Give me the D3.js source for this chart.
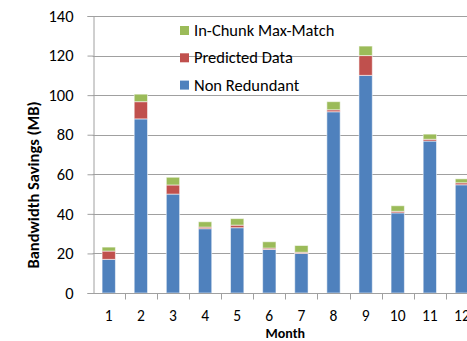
<!DOCTYPE html>
<html>
<head>
<meta charset="utf-8">
<script src="https://cdn.jsdelivr.net/npm/d3@7"></script>
<style>
  html, body { margin: 0; padding: 0; background: #fff; overflow: hidden; }
  svg { display: block; }
  text { font-family: Carlito, Lato, "Open Sans", sans-serif; fill: #000; }
</style>
</head>
<body>
<svg id="chart" width="467" height="341"></svg>
<script>
// Monthly bandwidth savings (MB), split by source
const months = ["1", "2", "3", "4", "5", "6", "7", "8", "9", "10", "11", "12"];
const nonRedundant = [17, 88, 50, 32.5, 33, 22, 20, 91.6, 110, 40.5, 76.8, 54.7];
const predictedData = [4.2, 8.7, 4.6, 0.8, 1.3, 0.7, 0.6, 1.0, 10, 0.8, 0.9, 1.0];
const inChunkMaxMatch = [2.0, 3.8, 3.9, 2.7, 3.3, 3.2, 3.4, 4.1, 4.8, 2.8, 2.6, 2.0];
const yTicks = [0, 20, 40, 60, 80, 100, 120, 140];

const seriesKeys = ["nonRedundant", "predicted", "inChunk"];
const seriesNames = { nonRedundant: "Non Redundant", predicted: "Predicted Data", inChunk: "In-Chunk Max-Match" };
const seriesColors = { nonRedundant: "#4F81BD", predicted: "#C0504D", inChunk: "#9BBB59" };

const rows = months.map((m, i) => ({
  month: m,
  nonRedundant: nonRedundant[i],
  predicted: predictedData[i],
  inChunk: inChunkMaxMatch[i]
}));

const svg = d3.select("#chart");
const plot = { left: 92.7, right: 478, top: 16, bottom: 293 };

const x = d3.scaleBand()
  .domain(months)
  .range([plot.left, plot.right])
  .paddingInner(0.585)
  .paddingOuter(0.2925);
const step = x.step();

const y = d3.scaleLinear().domain([0, 140]).range([plot.bottom, plot.top]);

// Horizontal gridlines
svg.append("g")
  .selectAll("line")
  .data(yTicks.filter(t => t > 0))
  .join("line")
  .attr("x1", plot.left).attr("x2", plot.right)
  .attr("y1", d => Math.round(y(d)) + 0.5).attr("y2", d => Math.round(y(d)) + 0.5)
  .attr("stroke", "#a0a0a0").attr("stroke-width", 1);

// Stacked bars
const stacked = d3.stack().keys(seriesKeys)(rows);
svg.append("g")
  .selectAll("g")
  .data(stacked)
  .join("g")
  .attr("fill", s => seriesColors[s.key])
  .selectAll("rect")
  .data(s => s)
  .join("rect")
  .attr("x", d => x(d.data.month))
  .attr("width", x.bandwidth())
  .attr("y", d => y(d[1]))
  .attr("height", d => y(d[0]) - y(d[1]))
  .attr("stroke", "rgba(255,255,255,0.55)")
  .attr("stroke-width", 1);

// Y axis
const yAxis = d3.axisLeft(y).tickValues(yTicks).tickSize(6).tickPadding(14);
const yg = svg.append("g")
  .attr("transform", `translate(${Math.round(plot.left) + 0.5},0)`)
  .call(yAxis);
yg.select(".domain").attr("stroke", "#a0a0a0");
yg.selectAll(".tick line").attr("stroke", "#a0a0a0");
yg.selectAll(".tick text").attr("font-size", 16.5).attr("font-family", null);

// X axis with ticks at category boundaries
const xg = svg.append("g")
  .attr("transform", `translate(0,${Math.round(plot.bottom) + 0.5})`);
xg.append("line")
  .attr("x1", plot.left).attr("x2", plot.right)
  .attr("stroke", "#a0a0a0");
const boundaries = months.map(m => x(m) + x.bandwidth() / 2 + step / 2);
xg.selectAll("line.tick")
  .data(boundaries)
  .join("line")
  .attr("class", "tick")
  .attr("x1", d => Math.round(d) + 0.5).attr("x2", d => Math.round(d) + 0.5)
  .attr("y1", 0).attr("y2", 6)
  .attr("stroke", "#a0a0a0");
xg.selectAll("text")
  .data(months)
  .join("text")
  .attr("x", d => x(d) + x.bandwidth() / 2)
  .attr("y", 27)
  .attr("text-anchor", "middle")
  .attr("font-size", 15.5)
  .text(d => d);

// Axis titles
svg.append("text")
  .attr("transform", `translate(39,185) rotate(-90)`)
  .attr("text-anchor", "middle")
  .attr("font-size", 16.5)
  .attr("font-weight", "bold")
  .text("Bandwidth Savings (MB)");

svg.append("text")
  .attr("x", (plot.left + plot.right) / 2)
  .attr("y", 338)
  .attr("text-anchor", "middle")
  .attr("font-size", 14)
  .attr("font-weight", "bold")
  .text("Month");

// Legend
const legendOrder = ["inChunk", "predicted", "nonRedundant"];
const legend = svg.append("g").attr("transform", "translate(180,26)");
const item = legend.selectAll("g")
  .data(legendOrder)
  .join("g")
  .attr("transform", (d, i) => `translate(0,${i * 27.3})`);
item.append("rect")
  .attr("width", 9).attr("height", 9)
  .attr("fill", d => seriesColors[d]);
item.append("text")
  .attr("x", 14).attr("y", 10)
  .attr("font-size", 16.5)
  .text(d => seriesNames[d]);
</script>
</body>
</html>
